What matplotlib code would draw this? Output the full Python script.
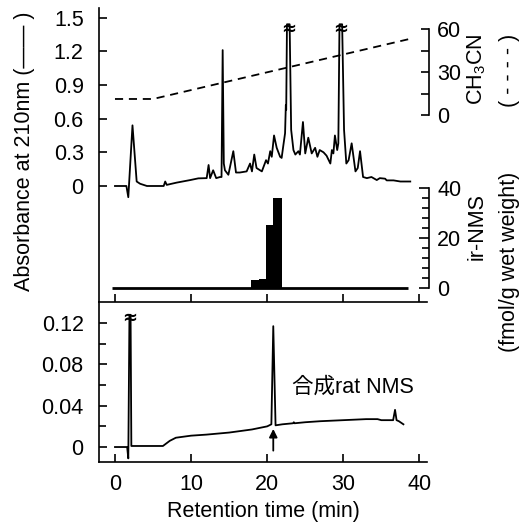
import matplotlib
matplotlib.use('Agg')
import matplotlib.pyplot as plt
from matplotlib.ticker import FixedLocator

plt.rcParams['font.family'] = ['Liberation Sans', 'Noto Sans CJK JP']
plt.rcParams['font.size'] = 15.5
plt.rcParams['axes.linewidth'] = 1.2

# tissue extract, absorbance at 210 nm (upper panel)
top_t = [0, 1.5, 1.75, 2.3, 2.85, 3.3, 4.2, 6.4, 6.6, 6.8, 8.1, 9.9, 10.95, 12.05,
         12.3, 12.5, 12.9, 13.3, 13.8, 14.0, 14.15, 14.3, 14.45, 14.9, 15.55, 15.9,
         16.4, 17.3, 17.75, 18.0, 18.3, 18.6, 19.3, 19.85, 20.1, 20.4, 20.6, 20.9,
         21.25, 21.7, 21.9, 22.1, 22.35, 22.45, 22.5, 22.6, 22.95, 23.15, 23.45,
         23.7, 24.1, 24.3, 24.7, 25.0, 25.4, 25.85, 26.3, 26.6, 26.9, 27.4, 27.8,
         28.3, 28.5, 28.7, 28.9, 29.2, 29.35, 29.5, 29.85, 30.1, 30.4, 30.7, 31.1,
         31.6, 31.9, 32.2, 32.6, 33.1, 33.7, 34.4, 34.8, 35.5, 35.7, 36.6, 37.5, 38.8]
top_abs = [0, 0, -0.1, 0.54, 0.04, 0.02, 0.0, 0.0, 0.04, 0.01, 0.03, 0.053, 0.068, 0.07,
           0.187, 0.07, 0.14, 0.07, 0.08, 0.08, 1.21, 0.2, 0.14, 0.1, 0.31, 0.12,
           0.12, 0.13, 0.2, 0.13, 0.28, 0.16, 0.13, 0.23, 0.2, 0.31, 0.26, 0.45,
           0.34, 0.26, 0.25, 0.35, 0.47, 0.72, 0.68, 1.44, 1.44, 0.5, 0.32,
           0.28, 0.31, 0.28, 0.57, 0.29, 0.43, 0.29, 0.34, 0.26, 0.32, 0.3, 0.27,
           0.2, 0.32, 0.29, 0.45, 0.32, 0.38, 1.44, 1.44, 0.5, 0.2, 0.23, 0.38,
           0.13, 0.16, 0.31, 0.08, 0.07, 0.08, 0.053, 0.07, 0.065, 0.05, 0.05, 0.04, 0.04]
top_breaks = [22.78, 29.68]

# acetonitrile gradient (%)
grad_t = [0, 5.0, 39.2]
grad_ch3cn = [11.2, 11.2, 53.7]

# ir-NMS per fraction
frac_edges = [17.9, 18.9, 19.8, 20.8, 22.0]
frac_ir = [3.2, 3.6, 25.2, 35.9]
frac_span = [-0.4, 38.5]

# synthetic rat NMS (lower panel)
bot_t = [0, 1.6, 1.75, 1.9, 2.05, 2.15, 6.3, 7.2, 8.0, 10.0, 12.0, 15.0, 18.0, 20.0,
         20.55, 20.8, 21.1, 22.0, 23.4, 23.5, 23.6, 25.0, 27.0, 30.0, 33.0, 34.5,
         35.0, 36.55, 36.8, 37.0, 37.3, 37.9]
bot_abs = [0, 0, -0.011, 0.128, 0.128, 0.001, 0.001, 0.006, 0.009, 0.011, 0.012, 0.014,
           0.017, 0.020, 0.022, 0.117, 0.021, 0.022, 0.023, 0.024, 0.023, 0.024, 0.025,
           0.026, 0.027, 0.027, 0.026, 0.026, 0.036, 0.026, 0.025, 0.022]
bot_break = 1.97
nms_t = 20.8

W, H = 519, 527
fig = plt.figure(figsize=(W / 100, H / 100), dpi=100)


def box(x0, y0, x1, y1):
    return [x0 / W, 1 - y1 / H, (x1 - x0) / W, (y1 - y0) / H]


xlim = (-2.1, 41)

ax = fig.add_axes(box(99, 8, 427, 302))
ax_bot = fig.add_axes(box(99, 302, 427, 462))

# upper panel
ax.plot(top_t, top_abs, color='black', lw=1.3)
for t in top_breaks:
    ax.text(t, 1.40, '\u2248', ha='center', va='center', fontsize=13,
            fontweight='bold', family='DejaVu Sans')
ax.set_xlim(xlim)
ax.set_ylim(-1.033, 1.585)
for s in ['top', 'right', 'bottom']:
    ax.spines[s].set_visible(False)
ax.set_yticks([0, 0.3, 0.6, 0.9, 1.2, 1.5])
ax.set_yticklabels(['0', '0.3', '0.6', '0.9', '1.2', '1.5'])
ax.tick_params(axis='y', direction='in', length=6, width=1.2, pad=11)
ax.set_xticks([0, 10, 20, 30, 40])
ax.tick_params(axis='x', direction='in', length=6, width=1.2, labelbottom=False)

# CH3CN axis
ax_ch = ax.twinx()
ax_ch.plot(grad_t, grad_ch3cn, color='black', lw=1.3, linestyle=(0, (4.5, 3.2)))
ax_ch.set_ylim(-130.5, 74.7)
for s in ['top', 'left', 'bottom']:
    ax_ch.spines[s].set_visible(False)
ax_ch.spines['right'].set_bounds(0, 60)
ax_ch.spines['right'].set_position(('axes', 1.006))
ax_ch.yaxis.set_major_locator(FixedLocator([0, 30, 60]))
ax_ch.yaxis.set_minor_locator(FixedLocator([15, 45]))
ax_ch.tick_params(axis='y', which='both', direction='in', length=6, width=1.2, pad=6)

# ir-NMS axis
ax_ir = ax.twinx()
ax_ir.stairs(frac_ir, frac_edges, fill=True, color='black')
ax_ir.hlines(0, frac_span[0], frac_span[1], color='black', lw=2)
ax_ir.set_ylim(-5.6, 112)
for s in ['top', 'left', 'bottom']:
    ax_ir.spines[s].set_visible(False)
ax_ir.spines['right'].set_bounds(0, 40)
ax_ir.spines['right'].set_position(('axes', 1.006))
ax_ir.yaxis.set_major_locator(FixedLocator([0, 20, 40]))
ax_ir.yaxis.set_minor_locator(FixedLocator([4, 8, 12, 16, 24, 28, 32, 36]))
ax_ir.tick_params(axis='y', which='major', direction='in', length=7, width=1.2, pad=6)
ax_ir.tick_params(axis='y', which='minor', direction='in', length=5, width=1.2)

# lower panel
ax_bot.plot(bot_t, bot_abs, color='black', lw=1.3)
ax_bot.text(bot_break, 0.1255, '\u2248', ha='center', va='center', fontsize=13,
            fontweight='bold', family='DejaVu Sans')
ax_bot.annotate('', xy=(nms_t, 0.0175), xytext=(nms_t, -0.0035),
                arrowprops=dict(arrowstyle='-|>', color='black', lw=1.3,
                                mutation_scale=12, shrinkA=0, shrinkB=0))
ax_bot.text(23.3, 0.058, '合成rat NMS', ha='left', va='center')
ax_bot.set_xlim(xlim)
ax_bot.set_ylim(-0.0145, 0.1404)
ax_bot.spines['right'].set_visible(False)
ax_bot.set_yticks([0, 0.04, 0.08, 0.12])
ax_bot.set_yticklabels(['0', '0.04', '0.08', '0.12'])
ax_bot.yaxis.set_minor_locator(FixedLocator([0.02, 0.06, 0.10]))
ax_bot.tick_params(axis='y', which='major', direction='in', length=6, width=1.2, pad=11)
ax_bot.tick_params(axis='y', which='minor', direction='in', length=5, width=1.2)
ax_bot.set_xticks([0, 10, 20, 30, 40])
ax_bot.tick_params(axis='x', direction='in', length=6, width=1.2, pad=9)
ax_bot.set_xlabel('Retention time (min)', labelpad=4)

# axis titles
fig.text(25 / W, 1 - 151 / H, 'Absorbance at 210nm (\u2014\u2014 )', rotation=90,
         ha='center', va='center')
fig.text(477 / W, 1 - 69 / H, 'CH$\\mathregular{_3}$CN', rotation=90, ha='center', va='center')
fig.text(510 / W, 1 - 70 / H, '( - - - - )', rotation=90, ha='center', va='center')
fig.text(477 / W, 1 - 227 / H, 'ir-NMS', rotation=90, ha='center', va='center')
fig.text(510 / W, 1 - 262 / H, '(fmol/g wet weight)', rotation=90, ha='center', va='center')

fig.savefig('out.png', dpi=100)
